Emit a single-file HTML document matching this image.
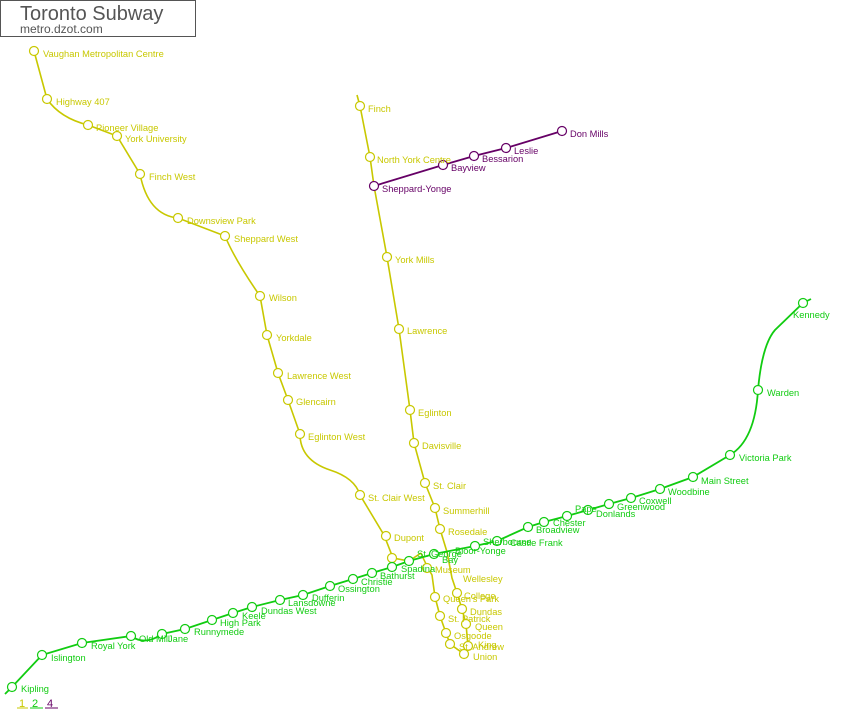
<!DOCTYPE html>
<html><head><meta charset="utf-8"><style>
body{margin:0;background:#fff;}
svg{display:block;font-family:"Liberation Sans",sans-serif;font-size:9.3px;}
.y{fill:#c8c800}.g{fill:#11cc11}.p{fill:#660066}
circle{fill:#fff;stroke-width:1.2}
</style></head><body>
<svg width="841" height="712" viewBox="0 0 841 712">
<rect x="0.5" y="0.5" width="195" height="36" fill="#fff" stroke="#555"/>
<text x="20" y="20" font-size="20" fill="#555">Toronto Subway</text>
<text x="20" y="33" font-size="12" fill="#555">metro.dzot.com</text>
<g fill="none" stroke="#c8c800" stroke-width="1.6">
<path d="M34,51 L47,99 Q60,118 88,125 L117,136 L140,174 Q148,215 178,218 L225,236 Q235,260 260,296 L267,335 L278,373 L288,400 L300,434 Q300,460 330,470 Q355,478 360,495 L384,535 L393,558 L409,561 L421,553"/>
<path d="M421,553 Q426,565 432,575 L435,597 L440,616 L446,633 L450,644 L464,654 L468,646 L466,624 L462,609 L457,593 L452,578 L447,552 L440,529 L435,508 L425,483 L414,443 L410,410 L399,329 L387,257 L374,186 L370,157 L360,106 L357,95"/>
</g>
<path d="M374,186 L443,165 L474,156 L506,148 L562,131" fill="none" stroke="#660066" stroke-width="1.8"/>
<path d="M5,694 L12,687 L42,655 L82,643 L131,636 Q145,646 162,634 L185,629 L212,620 L233,613 L252,607 L280,600 L303,595 L330,586 L353,579 L372,573 L392,567 L409,561 L434,554 L475,546 L497,541 L528,527 L544,522 L567,516 L588,510 L609,504 L631,498 L660,489 L693,477 L730,455 Q755,440 758,390 Q762,345 775,330 L803,303 L811,299" fill="none" stroke="#11cc11" stroke-width="1.8"/>
<g stroke="#c8c800">
<circle cx="34" cy="51" r="4.5"/><circle cx="47" cy="99" r="4.5"/><circle cx="88" cy="125" r="4.5"/><circle cx="117" cy="136" r="4.5"/><circle cx="140" cy="174" r="4.5"/><circle cx="178" cy="218" r="4.5"/><circle cx="225" cy="236" r="4.5"/><circle cx="260" cy="296" r="4.5"/><circle cx="267" cy="335" r="4.5"/><circle cx="278" cy="373" r="4.5"/><circle cx="288" cy="400" r="4.5"/><circle cx="300" cy="434" r="4.5"/><circle cx="360" cy="495" r="4.5"/><circle cx="386" cy="536" r="4.5"/><circle cx="392" cy="558" r="4.5"/><circle cx="427" cy="568" r="4.5"/><circle cx="435" cy="597" r="4.5"/><circle cx="440" cy="616" r="4.5"/><circle cx="446" cy="633" r="4.5"/><circle cx="450" cy="644" r="4.5"/><circle cx="464" cy="654" r="4.5"/><circle cx="468" cy="646" r="4.5"/><circle cx="466" cy="624" r="4.5"/><circle cx="462" cy="609" r="4.5"/><circle cx="457" cy="593" r="4.5"/><circle cx="440" cy="529" r="4.5"/><circle cx="435" cy="508" r="4.5"/><circle cx="425" cy="483" r="4.5"/><circle cx="414" cy="443" r="4.5"/><circle cx="410" cy="410" r="4.5"/><circle cx="399" cy="329" r="4.5"/><circle cx="387" cy="257" r="4.5"/><circle cx="370" cy="157" r="4.5"/><circle cx="360" cy="106" r="4.5"/>
</g>
<g stroke="#660066">
<circle cx="374" cy="186" r="4.5"/><circle cx="443" cy="165" r="4.5"/><circle cx="474" cy="156" r="4.5"/><circle cx="506" cy="148" r="4.5"/><circle cx="562" cy="131" r="4.5"/>
</g>
<g stroke="#11cc11">
<circle cx="12" cy="687" r="4.5"/><circle cx="42" cy="655" r="4.5"/><circle cx="82" cy="643" r="4.5"/><circle cx="131" cy="636" r="4.5"/><circle cx="162" cy="634" r="4.5"/><circle cx="185" cy="629" r="4.5"/><circle cx="212" cy="620" r="4.5"/><circle cx="233" cy="613" r="4.5"/><circle cx="252" cy="607" r="4.5"/><circle cx="280" cy="600" r="4.5"/><circle cx="303" cy="595" r="4.5"/><circle cx="330" cy="586" r="4.5"/><circle cx="353" cy="579" r="4.5"/><circle cx="372" cy="573" r="4.5"/><circle cx="392" cy="567" r="4.5"/><circle cx="409" cy="561" r="4.5"/><circle cx="434" cy="554" r="4.5"/><circle cx="475" cy="546" r="4.5"/><circle cx="497" cy="541" r="4.5"/><circle cx="528" cy="527" r="4.5"/><circle cx="544" cy="522" r="4.5"/><circle cx="567" cy="516" r="4.5"/><circle cx="588" cy="510" r="4.5"/><circle cx="609" cy="504" r="4.5"/><circle cx="631" cy="498" r="4.5"/><circle cx="660" cy="489" r="4.5"/><circle cx="693" cy="477" r="4.5"/><circle cx="730" cy="455" r="4.5"/><circle cx="758" cy="390" r="4.5"/><circle cx="803" cy="303" r="4.5"/>
</g>
<g class="y">
<text x="43" y="57">Vaughan Metropolitan Centre</text><text x="56" y="105">Highway 407</text><text x="96" y="131">Pioneer Village</text><text x="125" y="142">York University</text><text x="149" y="180">Finch West</text><text x="187" y="224">Downsview Park</text><text x="234" y="242">Sheppard West</text><text x="269" y="301">Wilson</text><text x="276" y="341">Yorkdale</text><text x="287" y="379">Lawrence West</text><text x="296" y="405">Glencairn</text><text x="308" y="440">Eglinton West</text><text x="368" y="501">St. Clair West</text><text x="394" y="541">Dupont</text><text x="435" y="573">Museum</text><text x="443" y="602">Queen's Park</text><text x="448" y="622">St. Patrick</text><text x="454" y="639">Osgoode</text><text x="459" y="650">St. Andrew</text><text x="473" y="660">Union</text><text x="478" y="648">King</text><text x="475" y="630">Queen</text><text x="470" y="615">Dundas</text><text x="464" y="599">College</text><text x="463" y="582">Wellesley</text><text x="448" y="535">Rosedale</text><text x="443" y="514">Summerhill</text><text x="433" y="489">St. Clair</text><text x="422" y="449">Davisville</text><text x="418" y="416">Eglinton</text><text x="407" y="334">Lawrence</text><text x="395" y="263">York Mills</text><text x="377" y="163">North York Centre</text><text x="368" y="112">Finch</text>
</g>
<g class="p">
<text x="382" y="192">Sheppard-Yonge</text><text x="451" y="171">Bayview</text><text x="482" y="162">Bessarion</text><text x="514" y="154">Leslie</text><text x="570" y="137">Don Mills</text>
</g>
<g class="g">
<text x="21" y="692">Kipling</text><text x="51" y="661">Islington</text><text x="91" y="649">Royal York</text><text x="139" y="642">Old Mill</text><text x="168" y="642">Jane</text><text x="194" y="635">Runnymede</text><text x="220" y="626">High Park</text><text x="242" y="619">Keele</text><text x="261" y="614">Dundas West</text><text x="288" y="606">Lansdowne</text><text x="312" y="601">Dufferin</text><text x="338" y="592">Ossington</text><text x="361" y="585">Christie</text><text x="380" y="579">Bathurst</text><text x="401" y="572">Spadina</text><text x="417" y="557">St. George</text><text x="442" y="563">Bay</text><text x="455" y="554">Bloor-Yonge</text><text x="483" y="545">Sherbourne</text><text x="510" y="546">Castle Frank</text><text x="536" y="533">Broadview</text><text x="553" y="526">Chester</text><text x="575" y="512">Pape</text><text x="596" y="517">Donlands</text><text x="617" y="510">Greenwood</text><text x="639" y="504">Coxwell</text><text x="668" y="495">Woodbine</text><text x="701" y="484">Main Street</text><text x="739" y="461">Victoria Park</text><text x="767" y="396">Warden</text><text x="793" y="318">Kennedy</text>
</g>
<text x="19" y="707" class="y" font-size="11">1</text><line x1="17" y1="708" x2="28" y2="708" stroke="#c8c800"/>
<text x="32" y="707" class="g" font-size="11">2</text><line x1="30" y1="708" x2="43" y2="708" stroke="#11cc11"/>
<text x="47" y="707" class="p" font-size="11">4</text><line x1="45" y1="708" x2="58" y2="708" stroke="#660066"/>
</svg>
</body></html>
